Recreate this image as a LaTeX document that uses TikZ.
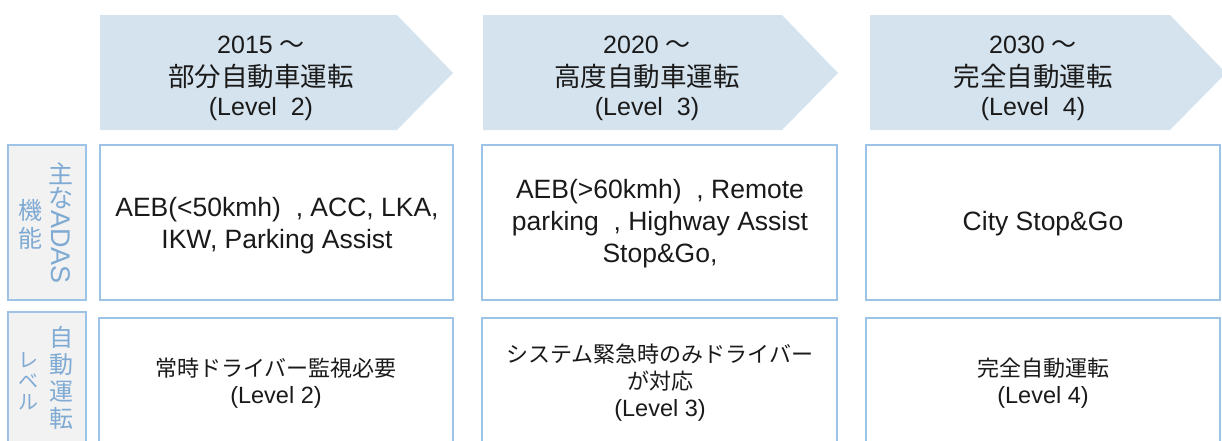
\documentclass[tikz,border=0pt]{standalone}
\usepackage{fontspec}
\setmainfont{Liberation Sans}
\newfontfamily\jp{Noto Sans CJK JP}
\definecolor{arrowfill}{HTML}{D5E3EE}
\definecolor{boxline}{HTML}{9DC3E6}
\definecolor{labfill}{HTML}{F2F2F2}
\definecolor{labtext}{HTML}{7FAAD3}
\definecolor{txt}{HTML}{1A1A1A}
\tikzset{
  stagearrow/.style={fill=arrowfill, draw=none},
  cellbox/.style={draw=boxline, line width=1.6pt, fill=white},
  labbox/.style={draw=boxline, line width=1.6pt, fill=labfill},
  headlat/.style={anchor=base, text=txt, inner sep=0pt, font=\fontsize{25}{30}\selectfont},
  headjp/.style={anchor=base, text=txt, inner sep=0pt, font=\fontsize{26.5}{30}\selectfont\jp},
  rowtext/.style={align=center, text=txt, font=\fontsize{26.5}{32}\selectfont},
  lowtext/.style={align=center, text=txt, font=\fontsize{23.5}{27}\selectfont},
  vlab/.style={align=center, text=labtext, inner sep=0pt},
}
\newcommand{\jpl}[1]{{\fontsize{22}{27}\selectfont\jp #1}}
\begin{document}
\begin{tikzpicture}[x=1pt,y=-1pt]
\useasboundingbox (0,0) rectangle (1222,440);
% stage arrows
\path[stagearrow] (100,15) -- (397,15) -- (453,73) -- (397,130) -- (100,130) -- cycle;
\path[stagearrow] (483,15) -- (782,15) -- (838,73) -- (782,130) -- (483,130) -- cycle;
\path[stagearrow] (870,15) -- (1170,15) -- (1226,73) -- (1170,130) -- (870,130) -- cycle;
\node[headlat] (h1a) at (261,53) {2015 {\jp ～}};
\node[headjp]  (h1b) at (261,86) {部分自動車運転};
\node[headlat] (h1c) at (261,115) {(Level\ \ 2)};
\node[headlat] (h2a) at (647,53) {2020 {\jp ～}};
\node[headjp]  (h2b) at (647,86) {高度自動車運転};
\node[headlat] (h2c) at (647,115) {(Level\ \ 3)};
\node[headlat] (h3a) at (1033,53) {2030 {\jp ～}};
\node[headjp]  (h3b) at (1033,86) {完全自動運転};
\node[headlat] (h3c) at (1033,115) {(Level\ \ 4)};
% label boxes
\path[labbox] (8,145) rectangle (86,300);
\path[labbox] (8,312) rectangle (86,470);
\node[vlab, font=\fontsize{25}{24}\selectfont\jp] (l1a) at (61,186) {主\\な};
\node[vlab, font=\fontsize{27}{26}\selectfont, rotate=-90] (l1b) at (61,247) {ADAS};
\node[vlab, font=\fontsize{24}{28}\selectfont\jp] (l1c) at (30,224) {機\\能};
\node[vlab, font=\fontsize{24}{27}\selectfont\jp] (l2a) at (61,378) {自\\動\\運\\転};
\node[vlab, font=\fontsize{20}{21}\selectfont\jp] (l2b) at (28,381) {レ\\ベ\\ル};
% row 1
\path[cellbox] (100,145) rectangle (453,300);
\path[cellbox] (482,145) rectangle (837,300);
\path[cellbox] (866,145) rectangle (1220,300);
\node[rowtext] (b1) at (277,226) {AEB(<50kmh)~~, ACC, LKA,\\IKW, Parking Assist};
\node[rowtext] (b2) at (660,224) {AEB(>60kmh)~~, Remote\\parking~~, Highway Assist\\Stop\&Go,};
\node[rowtext] (b3) at (1043,224) {City Stop\&Go};
% row 2
\path[cellbox] (99,318) rectangle (453,470);
\path[cellbox] (482,318) rectangle (837,470);
\path[cellbox] (866,318) rectangle (1220,470);
\node[lowtext] (c1) at (276,383) {\jpl{常時ドライバー監視必要}\\(Level 2)};
\node[lowtext] (c2) at (660,383) {\jpl{システム緊急時のみドライバー}\\\jpl{が対応}\\(Level 3)};
\node[lowtext] (c3) at (1043,383) {\jpl{完全自動運転}\\(Level 4)};
\end{tikzpicture}
\end{document}
